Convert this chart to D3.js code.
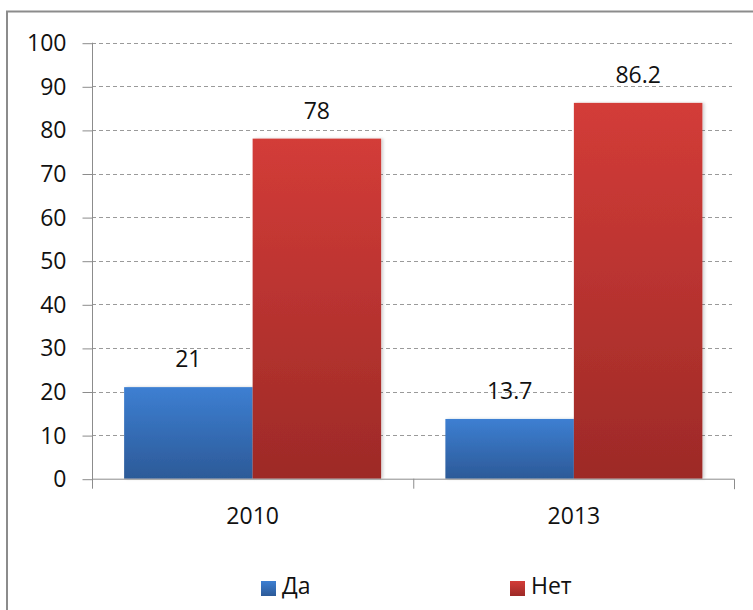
<!DOCTYPE html>
<html><head><meta charset="utf-8">
<script src="https://cdn.jsdelivr.net/npm/d3@7"></script>
<style>
body{margin:0;background:#fff;}
text{font-family:"Open Sans",sans-serif;fill:#111;}
</style></head>
<body>
<svg id="c" width="753" height="610"></svg>
<script>
const categories = ["2010", "2013"];
const seriesNames = ["Да", "Нет"];
const valuesDa = [21, 13.7];
const valuesNet = [78, 86.2];
const valueLabels = [["21", "13.7"], ["78", "86.2"]];
const yTicks = [0, 10, 20, 30, 40, 50, 60, 70, 80, 90, 100];

const svg = d3.select("#c");
const W = 753, H = 610;
svg.append("rect").attr("width", W).attr("height", H).attr("fill", "#fff");

// outer chart border
svg.append("path").attr("d", "M7,620 L7,11.5 L760,11.5")
  .attr("fill", "none").attr("stroke", "#8c8c8c").attr("stroke-width", 2);

const defs = svg.append("defs");
const grads = [["#3d7fd2", "#2c5a98"], ["#d33c38", "#9d2a27"]];
grads.forEach((g, i) => {
  const lg = defs.append("linearGradient").attr("id", "g" + i)
    .attr("x1", 0).attr("y1", 0).attr("x2", 0).attr("y2", 1);
  lg.append("stop").attr("offset", "0%").attr("stop-color", g[0]);
  lg.append("stop").attr("offset", "100%").attr("stop-color", g[1]);
});
const f = defs.append("filter").attr("id", "sh").attr("x", "-10%").attr("y", "-10%").attr("width", "130%").attr("height", "120%");
f.append("feDropShadow").attr("dx", 2).attr("dy", 0).attr("stdDeviation", 1.5).attr("flood-color", "#000").attr("flood-opacity", 0.18);

const pLeft = 92, pRight = 734.5, pTop = 42.7, pBottom = 478.7;
const y = d3.scaleLinear().domain([0, 100]).range([pBottom, pTop]);
const x0 = d3.scaleBand().domain(categories).range([pLeft, pRight]).paddingInner(0).paddingOuter(0);
const inner = 0.1;
const x1 = d3.scaleBand().domain(seriesNames)
  .range([x0.bandwidth() * inner, x0.bandwidth() * (1 - inner)]);

// gridlines
svg.append("g").selectAll("line").data(yTicks.filter(t => t > 0)).join("line")
  .attr("x1", pLeft).attr("x2", 732).attr("y1", d => Math.round(y(d)) + 0.5).attr("y2", d => Math.round(y(d)) + 0.5)
  .attr("stroke", "#9a9a9a").attr("stroke-width", 1).attr("stroke-dasharray", "4,3");

// y axis
const yAxis = d3.axisLeft(y).tickValues(yTicks).tickSize(10).tickPadding(16).tickFormat(d3.format("d"));
const gy = svg.append("g").attr("transform", `translate(${pLeft + 0.5},0)`).call(yAxis);
gy.select(".domain").attr("stroke", "#8c8c8c").attr("d", `M0,${pBottom + 10}V${pTop}`);
gy.selectAll(".tick line").attr("stroke", "#8c8c8c").attr("transform", "translate(0,0.5)");
gy.selectAll(".tick text").style("font-size", "23px").style("font-family", "'Open Sans',sans-serif")
  .attr("fill", "#111").attr("dy", "0.35em");

// bars
const data = categories.map((c, i) => ({ c, vals: [valuesDa[i], valuesNet[i]] }));
const groups = svg.append("g").selectAll("g").data(data).join("g")
  .attr("transform", d => `translate(${x0(d.c)},0)`);
groups.selectAll("rect").data((d, i) => d.vals.map((v, j) => ({ v, j, i }))).join("rect")
  .attr("x", d => x1(seriesNames[d.j])).attr("width", x1.bandwidth())
  .attr("y", d => y(d.v)).attr("height", d => pBottom - y(d.v))
  .attr("fill", d => `url(#g${d.j})`).attr("filter", "url(#sh)");
groups.selectAll("text").data((d, i) => d.vals.map((v, j) => ({ v, j, i }))).join("text")
  .attr("x", d => x1(seriesNames[d.j]) + x1.bandwidth() / 2)
  .attr("y", d => y(d.v) - 20)
  .attr("text-anchor", "middle").style("font-size", "23px")
  .text(d => valueLabels[d.j][d.i]);

// x axis
const xAxis = d3.axisBottom(x0).tickSize(0).tickPadding(0);
const gx = svg.append("g").attr("transform", `translate(0,${pBottom + 0.5})`).call(xAxis);
gx.select(".domain").attr("stroke", "#8c8c8c").attr("d", `M${pLeft},0H${pRight}V10`);
gx.selectAll(".tick line").remove();
gx.selectAll(".tick text").style("font-size", "23px").style("font-family", "'Open Sans',sans-serif")
  .attr("fill", "#111").attr("y", 45).attr("dy", 0);
svg.append("line").attr("x1", x0(categories[1]) + 0.5).attr("x2", x0(categories[1]) + 0.5)
  .attr("y1", pBottom).attr("y2", pBottom + 10).attr("stroke", "#8c8c8c");

// legend
const legX = [261, 510];
const leg = svg.append("g").selectAll("g").data(seriesNames).join("g")
  .attr("transform", (d, i) => `translate(${legX[i]},581)`);
leg.append("rect").attr("width", 15).attr("height", 15).attr("fill", (d, i) => `url(#g${i})`);
leg.append("text").attr("x", 21).attr("y", 13).style("font-size", "23px").text(d => d);
</script>
</body></html>
